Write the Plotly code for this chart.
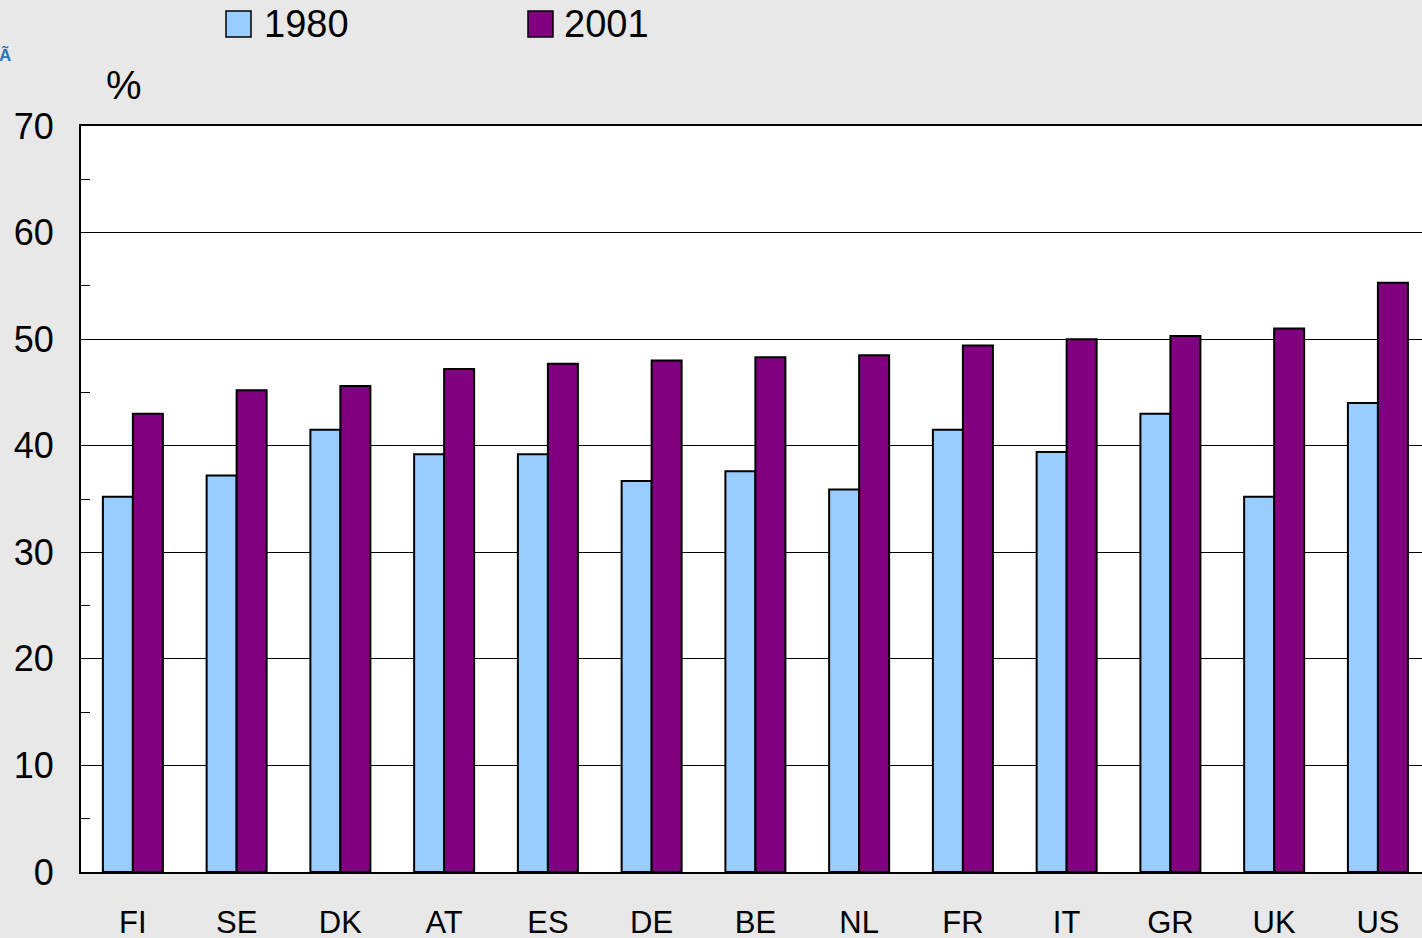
import plotly.graph_objects as go

countries = ["FI", "SE", "DK", "AT", "ES", "DE", "BE", "NL", "FR", "IT", "GR", "UK", "US"]
v1980 = [35.2, 37.2, 41.5, 39.2, 39.2, 36.7, 37.6, 35.9, 41.5, 39.4, 43.0, 35.2, 44.0]
v2001 = [43.0, 45.2, 45.6, 47.2, 47.7, 48.0, 48.3, 48.5, 49.4, 50.0, 50.3, 51.0, 55.3]
series_names = ["1980", "2001"]
colors = ["#99ccff", "#800080"]

W, H = 1422, 938
L, R, T, B = 81, 0, 126, 66
pw, ph = W - L - R, H - T - B


def px(x):
    return (x - L) / pw


def py(y):
    return (H - B - y) / ph


FONT = "Liberation Sans, Arial, sans-serif"

fig = go.Figure()
for name, vals, col in zip(series_names, [v1980, v2001], colors):
    fig.add_trace(go.Bar(
        x=countries, y=vals, name=name,
        marker=dict(color=col, line=dict(color="black", width=2)),
        showlegend=False,
    ))

fig.update_layout(
    width=W, height=H,
    margin=dict(l=L, r=R, t=T, b=B, pad=0),
    paper_bgcolor="#e8e8e8",
    plot_bgcolor="white",
    barmode="group",
    bargap=0.4217,
    bargroupgap=0,
    font=dict(family=FONT, color="black"),
    xaxis=dict(
        range=[-0.5, 12.425],
        automargin=False,
        showline=True, linecolor="black", linewidth=2, mirror=True,
        showgrid=False, ticks="",
        tickfont=dict(size=31, family=FONT, color="black"),
        ticklabelstandoff=22,
    ),
    yaxis=dict(
        range=[0, 70],
        automargin=False,
        tickvals=[0, 10, 20, 30, 40, 50, 60, 70],
        showline=True, linecolor="black", linewidth=2,
        showgrid=True, gridcolor="black", gridwidth=1,
        zeroline=False,
        ticks="inside", ticklen=10, tickcolor="black", tickwidth=1,
        minor=dict(dtick=5, ticks="inside", ticklen=9, tickcolor="black", tickwidth=1, showgrid=False),
        tickfont=dict(size=36, family=FONT, color="black"),
        ticklabelstandoff=18,
    ),
)

# legend (manual, to match swatch size and spacing)
legend_items = [(226, 262), (528, 562)]
for (bx, tx), name, col in zip(legend_items, series_names, colors):
    fig.add_shape(type="rect", xref="paper", yref="paper",
                  x0=px(bx), x1=px(bx + 25), y0=py(37), y1=py(11),
                  fillcolor=col, line=dict(color="black", width=1.5))
    fig.add_annotation(xref="paper", yref="paper", x=px(tx), y=py(24),
                       text=name, showarrow=False, xanchor="left", yanchor="middle",
                       font=dict(size=38, family=FONT, color="black"))

fig.add_annotation(xref="paper", yref="paper", x=px(124), y=py(85),
                   text="%", showarrow=False, xanchor="center", yanchor="middle",
                   font=dict(size=40, family=FONT, color="black"))
fig.add_annotation(xref="paper", yref="paper", x=px(5), y=py(55),
                   text="<b>Ã</b>", showarrow=False, xanchor="center", yanchor="middle",
                   font=dict(size=17, family=FONT, color="#2a78b8"))

fig.write_html("out.html", config={"displayModeBar": False},
               post_script="document.body.style.margin='0';document.body.style.overflow='hidden';")
